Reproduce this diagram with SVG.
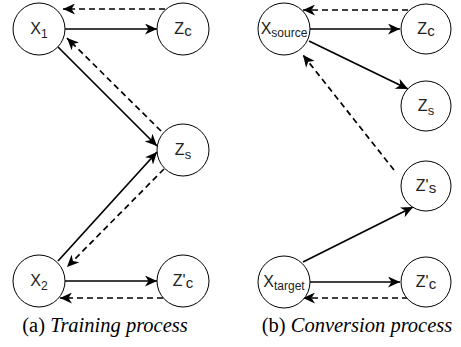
<svg xmlns="http://www.w3.org/2000/svg" width="461" height="347" viewBox="0 0 461 347">
<style>
.node circle{fill:#fff;stroke:#000;stroke-width:1}
.lbl{font-family:"Liberation Sans",Arial,sans-serif;font-size:16px;fill:#222;text-anchor:middle}
.solid{stroke:#000;stroke-width:1.7;fill:none;marker-end:url(#ah)}
.dash{stroke:#000;stroke-width:1.7;fill:none;stroke-dasharray:6 4;marker-end:url(#ah)}
.cap{font-family:"Liberation Serif","Times New Roman","DejaVu Serif",serif;font-size:20.5px;fill:#000;text-anchor:middle}
</style>
<defs>
<marker id="ah" markerUnits="userSpaceOnUse" markerWidth="13" markerHeight="11" refX="12" refY="5.5" orient="auto" viewBox="0 0 13 11">
<path d="M0,0 L12,5.5 L0,11 L3.5,5.5 z" fill="#000"/>
</marker>
</defs>
<g id="connectors">
<line class="solid" x1="65" y1="29" x2="157" y2="29"/>
<line class="dash" x1="165" y1="9" x2="63" y2="9"/>
<line class="solid" x1="58" y1="47" x2="157" y2="146"/>
<line class="dash" x1="161" y1="131" x2="67" y2="38"/>
<line class="solid" x1="58" y1="261" x2="157" y2="152"/>
<line class="dash" x1="164" y1="169" x2="67" y2="267"/>
<line class="solid" x1="65" y1="281" x2="157" y2="281"/>
<line class="dash" x1="163" y1="298" x2="60" y2="298"/>
<line class="solid" x1="310" y1="29" x2="400" y2="29"/>
<line class="dash" x1="408" y1="10" x2="303" y2="10"/>
<line class="solid" x1="309" y1="41" x2="408" y2="89"/>
<line class="dash" x1="394" y1="170" x2="303" y2="55"/>
<line class="solid" x1="303" y1="262" x2="413" y2="207"/>
<line class="solid" x1="310" y1="282" x2="400" y2="282"/>
<line class="dash" x1="408" y1="298" x2="303" y2="298"/>
</g>
<g id="x1" class="node"><circle cx="39" cy="29" r="26"/><text class="lbl" x="39" y="34">X<tspan font-size="12" dy="4">1</tspan></text></g>
<g id="zc" class="node"><circle cx="183" cy="29" r="26"/><text class="lbl" x="183" y="34">Z<tspan font-size="15" dy="2">c</tspan></text></g>
<g id="zs" class="node"><circle cx="183" cy="150" r="26"/><text class="lbl" x="183" y="155">Z<tspan font-size="13" dy="4">s</tspan></text></g>
<g id="x2" class="node"><circle cx="39" cy="281" r="26"/><text class="lbl" x="39" y="286">X<tspan font-size="12" dy="4">2</tspan></text></g>
<g id="zc2" class="node"><circle cx="183" cy="281" r="26"/><text class="lbl" x="183" y="286">Z'<tspan font-size="15" dy="2">c</tspan></text></g>
<g id="xsource" class="node"><circle cx="284" cy="29" r="26"/><text class="lbl" x="284" y="34">X<tspan font-size="12" dy="3">source</tspan></text></g>
<g id="zc_b" class="node"><circle cx="426" cy="29" r="25"/><text class="lbl" x="426" y="34">Z<tspan font-size="15" dy="2">c</tspan></text></g>
<g id="zs_b" class="node"><circle cx="426" cy="106" r="25"/><text class="lbl" x="426" y="111">Z<tspan font-size="13" dy="4">s</tspan></text></g>
<g id="zs2_b" class="node"><circle cx="426" cy="186" r="25"/><text class="lbl" x="426" y="191">Z'<tspan font-size="15" dy="2">s</tspan></text></g>
<g id="xtarget" class="node"><circle cx="284" cy="282" r="26"/><text class="lbl" x="284" y="287">X<tspan font-size="12" dy="3">target</tspan></text></g>
<g id="zc2_b" class="node"><circle cx="426" cy="282" r="25"/><text class="lbl" x="426" y="287">Z'<tspan font-size="15" dy="2">c</tspan></text></g>
<text class="cap" x="105" y="332" font-family="Liberation Serif, serif">(a) <tspan font-style="italic">Training process</tspan></text>
<text class="cap" x="357" y="332" font-family="Liberation Serif, serif">(b) <tspan font-style="italic">Conversion process</tspan></text>
</svg>
